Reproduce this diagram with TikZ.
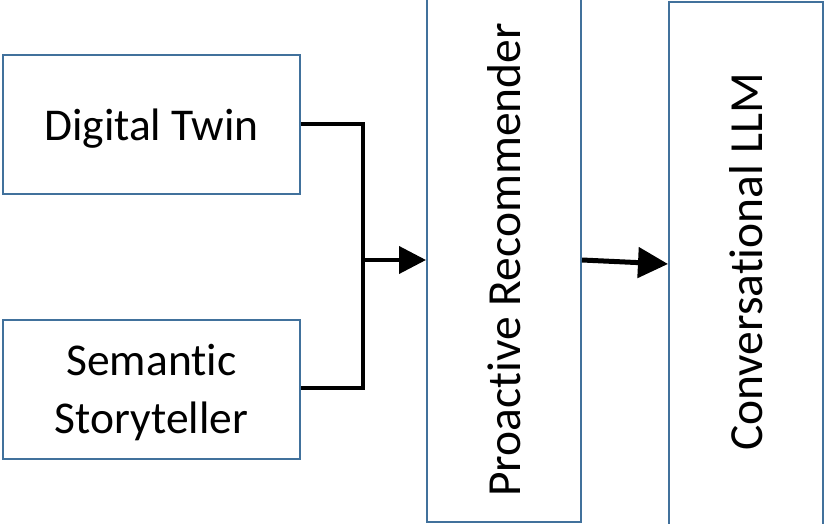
\documentclass[tikz,border=0pt]{standalone}
\usepackage{fontspec}
\setmainfont[Ligatures={NoCommon}]{Carlito}
\usetikzlibrary{arrows.meta}
\definecolor{boxblue}{HTML}{41719C}
\tikzset{
  blockbox/.style={draw=boxblue, line width=2pt, fill=white, rectangle, inner sep=0pt},
  lbl/.style={font=\fontsize{45.5}{58}\selectfont, align=center, inner sep=0pt},
  rlbl/.style={font=\fontsize{47.5}{58}\selectfont, align=center, inner sep=0pt, rotate=90},
  conn/.style={line width=4pt, black},
}
\begin{document}
\begin{tikzpicture}[x=1pt,y=-1pt]
\useasboundingbox (0,0) rectangle (825,524);
\clip (0,0) rectangle (825,524);
\node[blockbox, minimum width=297pt, minimum height=139pt] (dt) at (151.5,124.5) {};
\node[lbl] (dtl) at (151.5,128.5) {Digital Twin};
\node[blockbox, minimum width=297pt, minimum height=139pt] (ss) at (151.5,389.5) {};
\node[lbl] (ssl) at (151.5,393) {Semantic\\Storyteller};
\node[blockbox, minimum width=154pt, minimum height=524pt] (rec) at (504,260) {};
\node[rlbl] (recl) at (504,260) {Proactive Recommender};
\node[blockbox, minimum width=154pt, minimum height=524pt] (llm) at (746,264) {};
\node[rlbl] (llml) at (746,262) {Conversational LLM};
\coordinate (j) at (363,260);
\draw[conn, line join=miter] (dt.east |- 0,124) -| (j);
\draw[conn, line join=miter] (ss.east |- 0,388) -| (j);
\draw[conn, -{Triangle[length=27pt,width=27pt]}] (j) -- (rec.west |- j);
\draw[line width=5pt, -{Triangle[length=30pt,width=30pt]}] (rec.east |- j) -- (llm.west);
\end{tikzpicture}
\end{document}
